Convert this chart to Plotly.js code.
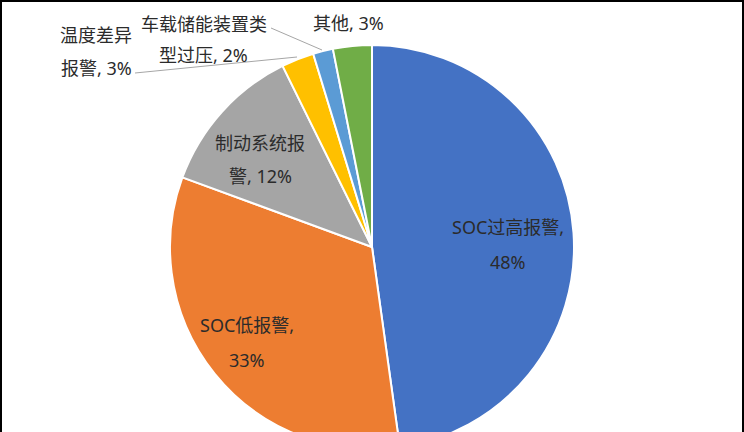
<!DOCTYPE html>
<html>
<head>
<meta charset="utf-8">
<script src="https://cdn.plot.ly/plotly-3.0.1.min.js"></script>
<style>
html,body{margin:0;padding:0;background:#fff;overflow:hidden;}
#chart{width:744px;height:500px;}
</style>
</head>
<body>
<div id="chart"></div>
<script>
// ---- data ----
const categories = ["SOC过高报警", "SOC低报警", "制动系统报警", "温度差异报警", "车载储能装置类型过压", "其他"];
const shares = [47.8, 32.8, 12.1, 2.6, 1.6, 3.1];
const colors = ["#4472C4", "#ED7D31", "#A5A5A5", "#FFC000", "#5B9BD5", "#70AD47"];

// ---- layout helpers ----
const W = 744, H = 500;
const px = x => x / W;
const py = y => 1 - y / H;

const pctText = shares.map(v => Math.round(v) + "%");
const fullLabels = categories.map((c, i) => c + ", " + pctText[i]);
// where each label wraps (character index) and where lines are placed (pixels)
const labelLayout = [
  {brk: 7, x: 508, y: [227, 262]},
  {brk: 6, x: 247, y: [325, 360]},
  {brk: 5, x: 260, y: [143, 176]},
  {brk: 4, x: 96,  y: [35, 68]},
  {brk: 7, x: 204, y: [24, 55]},
  {brk: 0, x: 348, y: [23]}
];

const font = {family: "'Noto Sans', 'Noto Sans CJK SC', sans-serif", size: 18, color: "#2b2b2b"};
const annotations = [];
fullLabels.forEach((t, i) => {
  const L = labelLayout[i];
  let lines = [t];
  if (L.brk > 0) {
    if (t.charAt(L.brk) === ",") lines = [t.slice(0, L.brk) + ",", t.slice(L.brk + 2)];
    else lines = [t.slice(0, L.brk), t.slice(L.brk)];
  }
  lines.forEach((ln, k) => {
    annotations.push({
      x: px(L.x), y: py(L.y[k]), xref: "paper", yref: "paper",
      text: ln, showarrow: false, xanchor: "center", yanchor: "middle",
      font: font
    });
  });
});

const shapes = [
  // leader lines
  {type: "line", xref: "paper", yref: "paper", x0: px(135), y0: py(73), x1: px(297), y1: py(57),
   line: {color: "#A6A6A6", width: 1}},
  {type: "line", xref: "paper", yref: "paper", x0: px(271), y0: py(28), x1: px(322), y1: py(50),
   line: {color: "#A6A6A6", width: 1}},
  // outer frame
  {type: "rect", xref: "paper", yref: "paper", x0: px(1), x1: px(743), y0: py(499), y1: py(1),
   line: {color: "#000000", width: 2}, fillcolor: "rgba(0,0,0,0)"}
];

const trace = {
  type: "pie",
  labels: categories,
  values: shares,
  sort: false,
  direction: "clockwise",
  rotation: 0,
  marker: {colors: colors, line: {color: "#FFFFFF", width: 2}},
  textinfo: "none",
  hoverinfo: "none",
  showlegend: false,
  domain: {x: [px(170), px(574)], y: [py(449), py(45)]}
};

const layout = {
  width: W, height: H,
  margin: {l: 0, r: 0, t: 0, b: 0},
  paper_bgcolor: "#FFFFFF",
  plot_bgcolor: "#FFFFFF",
  showlegend: false,
  annotations: annotations,
  shapes: shapes
};

Plotly.newPlot("chart", [trace], layout, {staticPlot: true, displayModeBar: false});
</script>
</body>
</html>
